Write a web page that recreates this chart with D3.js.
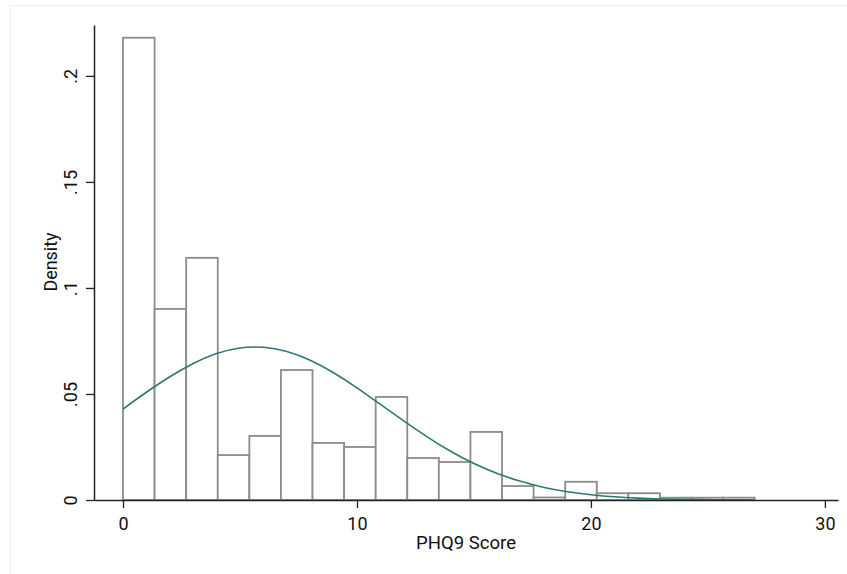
<!DOCTYPE html>
<html>
<head>
<meta charset="utf-8">
<script src="https://cdn.jsdelivr.net/npm/d3@7"></script>
<style>
  body { margin: 0; background: #fff; }
  text { font-family: Roboto, "Liberation Sans", sans-serif; fill: #111; }
</style>
</head>
<body>
<div id="chart"></div>
<script>
// histogram bins (width 1.35, from 0 to 27) and densities
var binStarts = [0, 1.35, 2.7, 4.05, 5.4, 6.75, 8.1, 9.45, 10.8, 12.15,
                 13.5, 14.85, 16.2, 17.55, 18.9, 20.25, 21.6, 22.95, 24.3, 25.65];
var binWidth = 1.35;
var densities = [0.218, 0.0901, 0.1142, 0.0212, 0.0302, 0.0613, 0.0269, 0.025, 0.0486, 0.0198,
                 0.0179, 0.0321, 0.0066, 0.0012, 0.0086, 0.0032, 0.0032, 0.0011, 0.0011, 0.0011];

// normal density overlay, read at each score 0..27
var curveX = [0, 1, 2, 3, 4, 5, 6, 7, 8, 9, 10, 11, 12, 13, 14,
              15, 16, 17, 18, 19, 20, 21, 22, 23, 24, 25, 26, 27];
var curveY = [0.0429, 0.0508, 0.0581, 0.0644, 0.0691, 0.0717, 0.0720, 0.0700, 0.0659, 0.0600,
              0.0529, 0.0451, 0.0373, 0.0298, 0.0230, 0.0172, 0.0125, 0.0088, 0.0059, 0.0039,
              0.0025, 0.0015, 0.0009, 0.0005, 0.0003, 0.0002, 0.0001, 0.0000];

var xTicks = [0, 10, 20, 30];
var yTicks = [0, 0.05, 0.1, 0.15, 0.2];

var W = 847, H = 574;

var svg = d3.select("#chart")
  .append("svg")
  .attr("width", W)
  .attr("height", H);

// faint outer frame
svg.append("rect")
  .attr("x", 10.5).attr("y", 5.5)
  .attr("width", W).attr("height", H)
  .attr("fill", "#fff")
  .attr("stroke", "#eeeeee");

var x = d3.scaleLinear().domain([-1.24, 30.56]).range([94, 838]);
var y = d3.scaleLinear().domain([0, 0.224]).range([500, 25]);

// bars
svg.selectAll("rect.bar")
  .data(densities)
  .enter()
  .append("rect")
  .attr("class", "bar")
  .attr("x", function (d, i) { return x(binStarts[i]); })
  .attr("y", function (d) { return y(d); })
  .attr("width", function (d, i) { return x(binStarts[i] + binWidth) - x(binStarts[i]); })
  .attr("height", function (d) { return y(0) - y(d); })
  .attr("fill", "#fff")
  .attr("stroke", "#8c8c8c")
  .attr("stroke-width", 1.8);

// normal curve
var line = d3.line()
  .x(function (d, i) { return x(curveX[i]); })
  .y(function (d) { return y(d); })
  .curve(d3.curveNatural);

svg.append("path")
  .datum(curveY)
  .attr("d", line)
  .attr("fill", "none")
  .attr("stroke", "#2b7a72")
  .attr("stroke-width", 1.6);

// x axis
var xAxis = svg.append("g")
  .attr("transform", "translate(0,500)")
  .call(d3.axisBottom(x).tickValues(xTicks).tickSize(8).tickPadding(9).tickSizeOuter(0));
xAxis.select(".domain").attr("stroke", "#222").attr("stroke-width", 1.5);
xAxis.selectAll(".tick line").attr("stroke", "#222").attr("stroke-width", 1.3);
xAxis.selectAll("text")
  .style("font-size", "18px")
  .style("font-family", "Roboto, sans-serif")
  .attr("fill", "#111");

// y axis
var yAxis = svg.append("g")
  .attr("transform", "translate(94,0)")
  .call(d3.axisLeft(y).tickValues(yTicks).tickSize(8).tickSizeOuter(0)
    .tickFormat(function (d) { return d === 0 ? "0" : d3.format("")(d).replace(/^0/, ""); }));
yAxis.select(".domain").attr("stroke", "#222").attr("stroke-width", 1.5);
yAxis.selectAll(".tick line").attr("stroke", "#222").attr("stroke-width", 1.3);
yAxis.selectAll("text")
  .attr("x", null).attr("dy", null)
  .attr("transform", "translate(-17,0) rotate(-90)")
  .attr("text-anchor", "middle")
  .style("font-size", "18px")
  .style("font-family", "Roboto, sans-serif")
  .attr("fill", "#111");

// axis titles
svg.append("text")
  .attr("x", 466).attr("y", 549)
  .attr("text-anchor", "middle")
  .attr("textLength", 100)
  .attr("lengthAdjust", "spacingAndGlyphs")
  .style("font-size", "19px")
  .text("PHQ9 Score");

svg.append("text")
  .attr("transform", "translate(57,262) rotate(-90)")
  .attr("text-anchor", "middle")
  .attr("textLength", 59)
  .attr("lengthAdjust", "spacingAndGlyphs")
  .style("font-size", "19px")
  .text("Density");
</script>
</body>
</html>
